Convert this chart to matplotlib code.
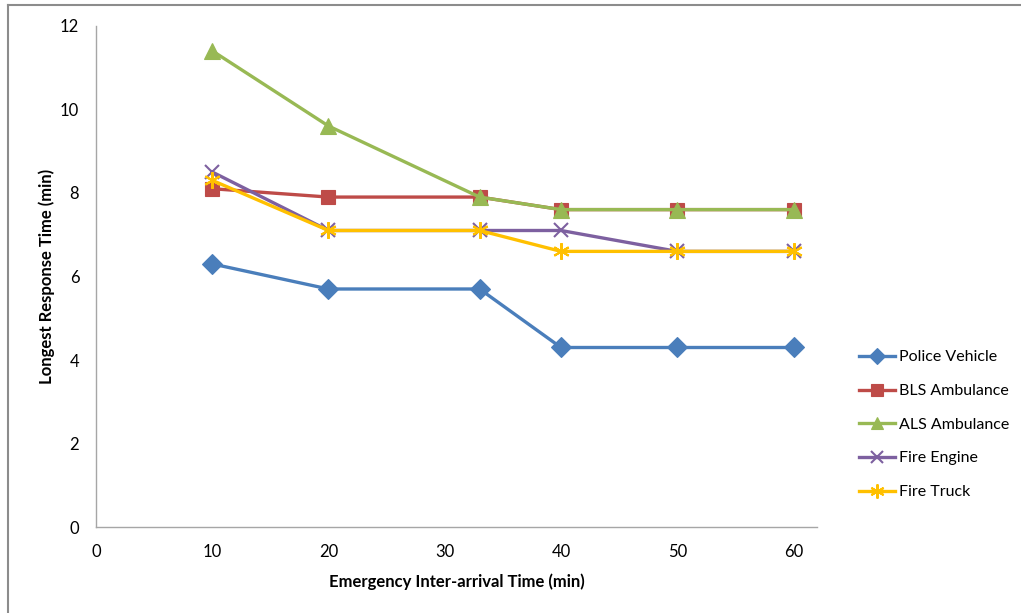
import matplotlib
matplotlib.use("Agg")
import matplotlib.pyplot as plt
from matplotlib.lines import Line2D

plt.rcParams['font.family'] = ['Lato', 'DejaVu Sans']

interarrival = [10, 20, 33, 40, 50, 60]
police_vehicle = [6.3, 5.7, 5.7, 4.3, 4.3, 4.3]
bls_ambulance = [8.1, 7.9, 7.9, 7.6, 7.6, 7.6]
als_ambulance = [11.4, 9.6, 7.9, 7.6, 7.6, 7.6]
fire_engine = [8.5, 7.1, 7.1, 7.1, 6.6, 6.6]
fire_truck = [8.3, 7.1, 7.1, 6.6, 6.6, 6.6]

x_ticks = [0, 10, 20, 30, 40, 50, 60]
y_ticks = [0, 2, 4, 6, 8, 10, 12]

series = [
    ("Police Vehicle", police_vehicle, "#4A7EBB", "D", 10),
    ("BLS Ambulance", bls_ambulance, "#BE4B48", "s", 10),
    ("ALS Ambulance", als_ambulance, "#98B954", "^", 11),
    ("Fire Engine", fire_engine, "#7D60A0", "x", 10),
    ("Fire Truck", fire_truck, "#FFC000", (6, 2, 0), 12),
]

fig = plt.figure(figsize=(10.21, 6.13), dpi=100)
ax = fig.add_axes([0.094, 0.140, 0.706, 0.818])

handles = []
for name, vals, color, marker, ms in series:
    ln, = ax.plot(interarrival, vals, color=color, lw=2.4, marker=marker,
                  markersize=ms, markeredgewidth=1.5 if marker in ("x", (6, 2, 0)) else 0.8,
                  markeredgecolor=color, markerfacecolor=color, label=name)
    handles.append(ln)

ax.set_xlim(0, 62)
ax.set_ylim(0, 12)
ax.set_xticks(x_ticks)
ax.set_yticks(y_ticks)
ax.tick_params(length=0, labelsize=12, colors="#000000", pad=12)
for s in ("top", "right"):
    ax.spines[s].set_visible(False)
for s in ("left", "bottom"):
    ax.spines[s].set_color("#A6A6A6")
    ax.spines[s].set_linewidth(1.0)

ax.set_xlabel("Emergency Inter-arrival Time (min)", fontsize=12, fontweight="bold", labelpad=10)
ax.set_ylabel("Longest Response Time (min)", fontsize=12, fontweight="bold", labelpad=4)

fig.legend(handles=handles, loc="upper left", bbox_to_anchor=(0.827, 0.452),
           frameon=False, fontsize=11.5, labelspacing=1.22, handlelength=2.25,
           handletextpad=0.25, markerscale=0.85)

# outer frame lines of the chart area
fig.add_artist(Line2D([0.008, 1.0], [0.992, 0.992], transform=fig.transFigure,
                      color="#8C8C8C", lw=1.5))
fig.add_artist(Line2D([0.008, 0.008], [0.0, 0.992], transform=fig.transFigure,
                      color="#8C8C8C", lw=1.5))

fig.savefig("out.png", dpi=100)
